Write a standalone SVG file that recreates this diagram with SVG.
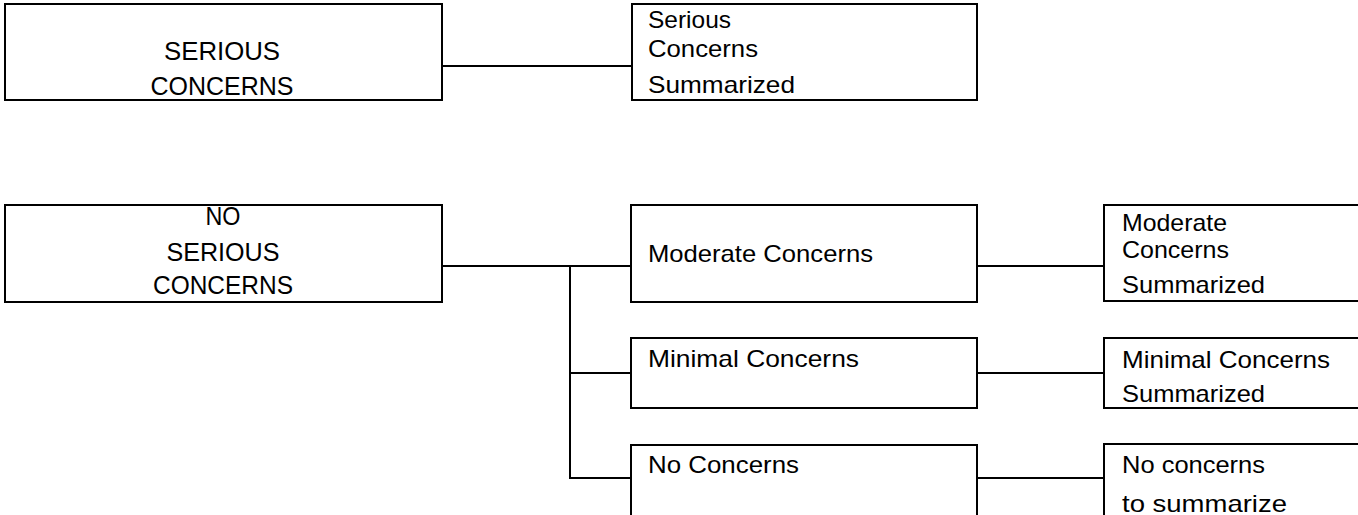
<svg xmlns="http://www.w3.org/2000/svg" width="1358" height="515" viewBox="0 0 1358 515">
<style>
rect{fill:#fff;stroke:#000;stroke-width:2}
.c line{stroke:#000;stroke-width:2}
text{font-family:"Liberation Sans",Arial,sans-serif;font-size:24px;fill:#000}
.m{text-anchor:middle;font-size:25px}
</style>
<rect x="0" y="0" width="1358" height="515" style="stroke:none"/>
<g class="c" id="connectors">
<line x1="442" y1="66" x2="632" y2="66"/>
<line x1="442" y1="266" x2="631" y2="266"/>
<line x1="570" y1="265" x2="570" y2="479"/>
<line x1="570" y1="373" x2="631" y2="373"/>
<line x1="569" y1="478" x2="631" y2="478"/>
<line x1="977" y1="266" x2="1104" y2="266"/>
<line x1="977" y1="373" x2="1104" y2="373"/>
<line x1="977" y1="478" x2="1104" y2="478"/>
</g>
<g id="n1"><rect x="5" y="4" width="437" height="96"/>
<text class="m" x="222" y="60" textLength="116" lengthAdjust="spacingAndGlyphs">SERIOUS</text>
<text class="m" x="222" y="95" textLength="143" lengthAdjust="spacingAndGlyphs">CONCERNS</text></g>
<g id="n2"><rect x="632" y="4" width="345" height="96"/>
<text x="648" y="28" textLength="83" lengthAdjust="spacingAndGlyphs">Serious</text>
<text x="648" y="57" textLength="110" lengthAdjust="spacingAndGlyphs">Concerns</text>
<text x="648" y="93" textLength="147" lengthAdjust="spacingAndGlyphs">Summarized</text></g>
<g id="n3"><rect x="5" y="205" width="437" height="97"/>
<text class="m" x="223" y="225" textLength="35" lengthAdjust="spacingAndGlyphs">NO</text>
<text class="m" x="223" y="261" textLength="113" lengthAdjust="spacingAndGlyphs">SERIOUS</text>
<text class="m" x="223" y="294" textLength="140" lengthAdjust="spacingAndGlyphs">CONCERNS</text></g>
<g id="n4"><rect x="631" y="205" width="346" height="97"/>
<text x="648" y="262" textLength="225" lengthAdjust="spacingAndGlyphs">Moderate Concerns</text></g>
<g id="n5"><rect x="631" y="338" width="346" height="70"/>
<text x="648" y="367" textLength="211" lengthAdjust="spacingAndGlyphs">Minimal Concerns</text></g>
<g id="n6"><rect x="631" y="445" width="346" height="80"/>
<text x="648" y="473" textLength="151" lengthAdjust="spacingAndGlyphs">No Concerns</text></g>
<g id="n7"><rect x="1104" y="205" width="270" height="96"/>
<text x="1122" y="231" textLength="105" lengthAdjust="spacingAndGlyphs">Moderate</text>
<text x="1122" y="258" textLength="107" lengthAdjust="spacingAndGlyphs">Concerns</text>
<text x="1122" y="293" textLength="143" lengthAdjust="spacingAndGlyphs">Summarized</text></g>
<g id="n8"><rect x="1104" y="338" width="270" height="70"/>
<text x="1122" y="368" textLength="208" lengthAdjust="spacingAndGlyphs">Minimal Concerns</text>
<text x="1122" y="402" textLength="143" lengthAdjust="spacingAndGlyphs">Summarized</text></g>
<g id="n9"><rect x="1104" y="444" width="270" height="80"/>
<text x="1122" y="473" textLength="143" lengthAdjust="spacingAndGlyphs">No concerns</text>
<text x="1122" y="512" textLength="165" lengthAdjust="spacingAndGlyphs">to summarize</text></g>
</svg>
